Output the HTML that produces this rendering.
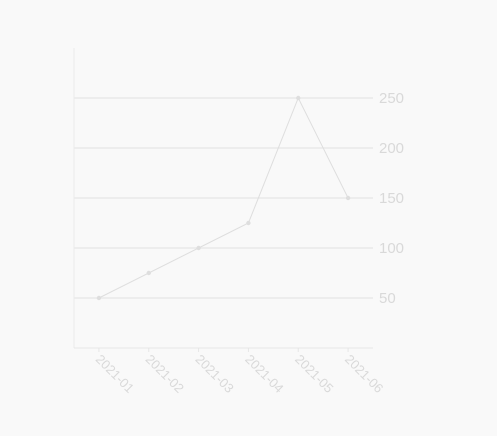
<!DOCTYPE html>
<html><head><meta charset="utf-8"><style>
html,body{margin:0;padding:0;background:#f9f9f9;}
svg{display:block;font-family:"Liberation Sans",sans-serif;}
</style></head><body>
<svg id="chart" width="497" height="436"></svg>
<script>
const categories=["2021-01","2021-02","2021-03","2021-04","2021-05","2021-06"];
const values=[50,75,100,125,250,150];
const yTicks=[50,100,150,200,250];
const NS="http://www.w3.org/2000/svg";
const svg=document.getElementById('chart');
const L=74,R=373,T=48,B=348,yMax=300;
const band=(R-L)/categories.length;
const x=i=>L+band*(i+0.5);
const y=v=>B-(v/yMax)*(B-T);
function mk(t,a,p){const e=document.createElementNS(NS,t);for(const k in a)e.setAttribute(k,a[k]);(p||svg).appendChild(e);return e;}
yTicks.forEach(t=>{
  const g=mk('line',{x1:L,x2:R,y1:y(t),y2:y(t),stroke:'#e6e6e6','stroke-width':1.2});
  
  
  const tx=mk('text',{x:379,y:y(t)+5,fill:'#d9d9d9','font-size':15});
  tx.textContent=t;
  
  
});
const ya=mk('line',{x1:L,x2:L,y1:T,y2:B,stroke:'#ebebeb'});


const xa=mk('line',{x1:L,x2:R,y1:B,y2:B,stroke:'#e6e6e6'});


categories.forEach((c,i)=>{
  const tk=mk('line',{x1:x(i),x2:x(i),y1:B,y2:B+4,stroke:'#e6e6e6'});
  
  
  const tx=mk('text',{x:x(i)-4,y:B+12,fill:'#d9d9d9','font-size':13,transform:`rotate(45 ${x(i)-4} ${B+12})`});
  tx.textContent=c;
  
  
});
const pl=mk('polyline',{points:values.map((v,i)=>x(i)+','+y(v)).join(' '),fill:'none',stroke:'#dedede','stroke-width':1});


values.forEach((v,i)=>{
  const p=mk('circle',{cx:x(i),cy:y(v),r:2.2,fill:'#dedede'});
  
  
});
</script>
</body></html>
